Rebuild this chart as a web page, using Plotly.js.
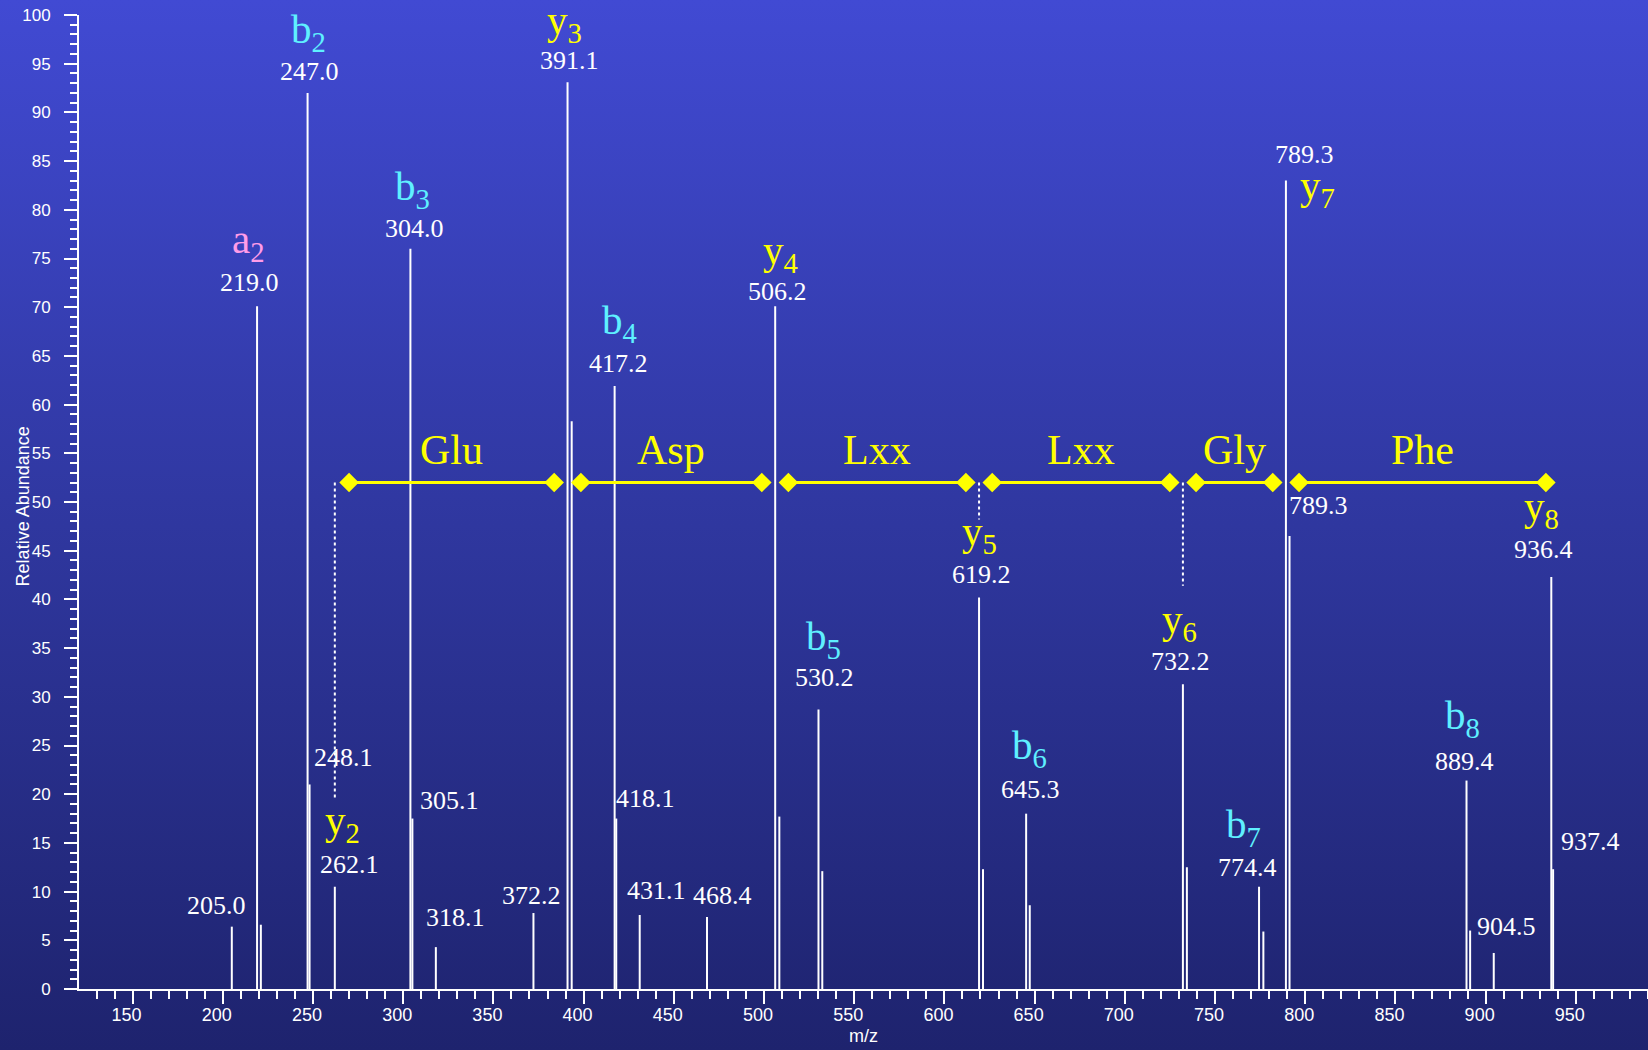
<!DOCTYPE html>
<html>
<head>
<meta charset="utf-8">
<script src="https://cdn.plot.ly/plotly-3.0.1.min.js"></script>
<style>
  html, body { margin: 0; padding: 0; }
  body {
    width: 1648px; height: 1050px; overflow: hidden;
    background: linear-gradient(to bottom, #414ad3 0%, #2f379f 50%, #1e236e 100%);
  }
  #chart { width: 1648px; height: 1050px; }
</style>
</head>
<body>
<div id="chart"></div>
<script>
// MS/MS peak list: m/z and relative abundance (%)
const peakMz  = [205.0, 219.0, 221.1, 247.0, 248.1, 262.1, 304.0, 305.1, 318.1, 372.2,
                 391.1, 393.4, 417.2, 418.1, 431.1, 468.4, 506.2, 508.5, 530.2, 532.3,
                 619.2, 621.4, 645.3, 647.3, 732.2, 734.4, 774.4, 776.8, 789.3, 791.3,
                 889.4, 891.4, 904.5, 936.4, 937.4];
const peakInt = [6.4, 70.1, 6.6, 92.0, 21.0, 10.5, 76.0, 17.5, 4.3, 7.8,
                 93.1, 58.3, 61.9, 17.5, 7.6, 7.4, 70.1, 17.7, 28.7, 12.1,
                 40.2, 12.3, 18.0, 8.6, 31.3, 12.5, 10.5, 5.9, 83.0, 46.5,
                 21.4, 6.0, 3.7, 42.3, 12.3];

// Peaks that carry an m/z readout
const labelledMz = [205.0, 219.0, 247.0, 248.1, 262.1, 304.0, 305.1, 318.1, 372.2, 391.1,
                    417.2, 418.1, 431.1, 468.4, 506.2, 530.2, 619.2, 645.3, 732.2, 774.4,
                    789.3, 889.4, 904.5, 936.4, 937.4];

// Fragment ion assignments
const ionNames = ['a2', 'b2', 'y2', 'b3', 'y3', 'b4', 'y4', 'b5', 'y5', 'b6', 'y6', 'b7', 'y7', 'b8', 'y8'];
const ionMz    = [219.0, 247.0, 262.1, 304.0, 391.1, 417.2, 506.2, 530.2, 619.2, 645.3, 732.2, 774.4, 789.3, 889.4, 936.4];

// y-ion ladder: residues and segment end points (m/z)
const residues    = ['Glu', 'Asp', 'Lxx', 'Lxx', 'Gly', 'Phe'];
const ladderStart = [270.0, 398.5, 513.5, 626.5, 739.5, 796.6];
const ladderEnd   = [383.7, 498.8, 611.9, 724.9, 782.0, 933.4];
const ladderLevel = 52;

// Dotted drops from the ladder towards the y-ion labels
const dropMz  = [262.1, 619.2, 732.2];
const dropEnd = [19.5, 48.2, 41.4];

// Second readout beside the y7 doublet
const extraMz = 789.3;
const extraLevel = 49.6;

// ---- label placement (pixel offsets from each peak top) ----
const massPlace = {
  '205.0': [-15, 21], '219.0': [-8, 24], '247.0': [2, 21], '248.1': [34, 27],
  '262.1': [15, 22], '304.0': [4, 20], '305.1': [37, 18], '318.1': [20, 30],
  '372.2': [-2, 18], '391.1': [2, 22], '417.2': [4, 23], '418.1': [29, 20],
  '431.1': [17, 24], '468.4': [15, 21], '506.2': [2, 15], '530.2': [6, 32],
  '619.2': [2, 23], '645.3': [4, 24], '732.2': [-2, 23], '774.4': [-12, 19],
  '789.3': [19, 26], '889.4': [-2, 19], '904.5': [13, 26], '936.4': [-8, 28],
  '937.4': [37, 28]
};
const ionPlace = {
  'a2': [-9, 64], 'b2': [1, 61], 'y2': [8, 64], 'b3': [2, 60], 'y3': [-3, 59],
  'b4': [5, 63], 'y4': [5, 53], 'b5': [5, 70], 'y5': [0, 63], 'b6': [3, 66],
  'y6': [-3, 62], 'b7': [-16, 60], 'y7': [32, -7], 'b8': [-4, 63], 'y8': [-10, 68]
};
const ionColor = { a: '#ff9ce8', b: '#5ff0ff', y: '#ffff00' };

const SERIF = 'Liberation Serif, Times New Roman, serif';
const SANS = 'Liberation Sans, Arial, sans-serif';

function intensityAt(mz) {
  return peakInt[peakMz.indexOf(mz)];
}

// Stick spectrum as one broken line trace
const stickX = [], stickY = [];
peakMz.forEach((m, i) => { stickX.push(m, m, null); stickY.push(0, peakInt[i], null); });

const traces = [{
  type: 'scatter', mode: 'lines', x: stickX, y: stickY,
  line: { color: '#ffffff', width: 2 }, hoverinfo: 'skip', showlegend: false
}];

// Dotted drop lines
dropMz.forEach((m, i) => {
  traces.push({
    type: 'scatter', mode: 'lines', x: [m, m], y: [ladderLevel, dropEnd[i]],
    line: { color: '#ffffff', width: 2, dash: 'dot' }, hoverinfo: 'skip', showlegend: false
  });
});

// Residue ladder segments with diamond end markers
residues.forEach((r, i) => {
  traces.push({
    type: 'scatter', mode: 'lines+markers',
    x: [ladderStart[i], ladderEnd[i]], y: [ladderLevel, ladderLevel],
    line: { color: '#ffff00', width: 3 },
    marker: { symbol: 'diamond', size: 15, color: '#ffff00' },
    hoverinfo: 'skip', showlegend: false
  });
});

const annotations = [];

// m/z readouts
labelledMz.forEach(m => {
  const key = m.toFixed(1);
  const p = massPlace[key];
  annotations.push({
    x: m, y: intensityAt(m), xref: 'x', yref: 'y', showarrow: false,
    text: key, xanchor: 'center', yanchor: 'middle', xshift: p[0], yshift: p[1],
    font: { family: SERIF, size: 26, color: '#ffffff' }
  });
});
annotations.push({
  x: extraMz, y: extraLevel, xref: 'x', yref: 'y', showarrow: false,
  text: extraMz.toFixed(1), xanchor: 'center', yanchor: 'middle', xshift: 33,
  font: { family: SERIF, size: 26, color: '#ffffff' }
});

// Ion names with subscript index
ionNames.forEach((n, i) => {
  const p = ionPlace[n];
  annotations.push({
    x: ionMz[i], y: intensityAt(ionMz[i]), xref: 'x', yref: 'y', showarrow: false,
    text: n[0] + '<sub>' + n.slice(1) + '</sub>',
    xanchor: 'center', yanchor: 'middle', xshift: p[0], yshift: p[1],
    font: { family: SERIF, size: 41, color: ionColor[n[0]] }
  });
});

// Residue names above the ladder
residues.forEach((r, i) => {
  annotations.push({
    x: (ladderStart[i] + ladderEnd[i]) / 2, y: ladderLevel, xref: 'x', yref: 'y',
    showarrow: false, text: r, xanchor: 'center', yanchor: 'middle', yshift: 33,
    font: { family: SERIF, size: 42, color: '#ffff00' }
  });
});

// Vertical axis title, set beside the tick labels
annotations.push({
  x: -0.036, y: 0.495, xref: 'paper', yref: 'paper', showarrow: false,
  text: 'Relative Abundance', textangle: -90, xanchor: 'center', yanchor: 'middle',
  font: { family: SANS, size: 18, color: '#ffffff' }
});

const axisCommon = {
  showgrid: false, zeroline: false, showline: true,
  linecolor: '#ffffff', linewidth: 2,
  ticks: 'outside', ticklen: 13, tickwidth: 2, tickcolor: '#ffffff',
  automargin: false
};

const layout = {
  width: 1648, height: 1050,
  margin: { l: 79, r: 0, t: 15, b: 61 },
  paper_bgcolor: 'rgba(0,0,0,0)', plot_bgcolor: 'rgba(0,0,0,0)',
  showlegend: false,
  xaxis: Object.assign({}, axisCommon, {
    range: [120.3, 990], tick0: 0, dtick: 50,
    minor: { dtick: 10, ticks: 'outside', ticklen: 8, tickwidth: 2, tickcolor: '#ffffff' },
    ticklabelshift: -6, ticklabelstandoff: -5,
    tickfont: { family: SANS, size: 18, color: '#ffffff' },
    title: { text: 'm/z', font: { family: SANS, size: 18, color: '#ffffff' }, standoff: 6 }
  }),
  yaxis: Object.assign({}, axisCommon, {
    range: [0, 100], tick0: 0, dtick: 5,
    minor: { dtick: 1, ticks: 'outside', ticklen: 7, tickwidth: 2, tickcolor: '#ffffff' },
    ticklabelstandoff: 10,
    tickfont: { family: SANS, size: 17, color: '#ffffff' }
  }),
  annotations: annotations
};

Plotly.newPlot('chart', traces, layout, { displayModeBar: false, staticPlot: true });
</script>
</body>
</html>
